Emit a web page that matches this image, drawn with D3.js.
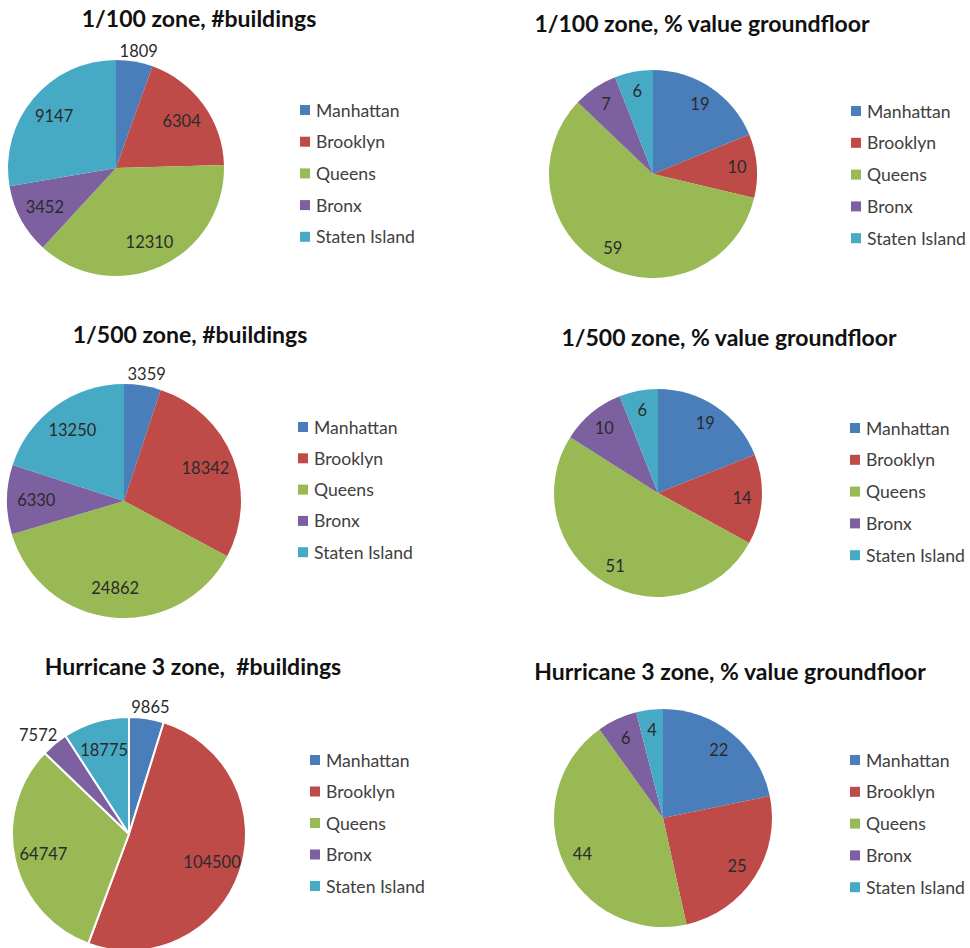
<!DOCTYPE html>
<html>
<head>
<meta charset="utf-8">
<script src="https://cdn.jsdelivr.net/npm/d3@7"></script>
<style>
  html, body { margin: 0; padding: 0; background: #ffffff; }
  svg { display: block; }
  text.title { white-space: pre; }
</style>
</head>
<body>
<script>
// ---- data ----
const boroughs = ["Manhattan", "Brooklyn", "Queens", "Bronx", "Staten Island"];
const chartTitles = [
  "1/100 zone, #buildings",
  "1/100 zone, % value groundfloor",
  "1/500 zone, #buildings",
  "1/500 zone, % value groundfloor",
  "Hurricane 3 zone,  #buildings",
  "Hurricane 3 zone, % value groundfloor"
];
const zone100Buildings = [1809, 6304, 12310, 3452, 9147];
const zone100Value     = [19, 10, 59, 7, 6];
const zone500Buildings = [3359, 18342, 24862, 6330, 13250];
const zone500Value     = [19, 14, 51, 10, 6];
const hurricane3Buildings = [9865, 104500, 64747, 7572, 18775];
const hurricane3Value     = [22, 25, 44, 6, 4];
const seriesList = [zone100Buildings, zone100Value, zone500Buildings, zone500Value, hurricane3Buildings, hurricane3Value];

// ---- layout / style (not data) ----
const colors = ["#4a7ebb", "#be4b48", "#98b954", "#7d60a0", "#46aac5"];
const layout = [
  { cx: 116, cy: 168, r: 108, tx: 199, ty: 27,  lx: 300, ly: 110, step: 31.7, k: 0.75, outside: 0.07, stroke: 0 },
  { cx: 653, cy: 174, r: 104, tx: 702, ty: 32,  lx: 851, ly: 111, step: 31.8, k: 0.81, outside: 0,    stroke: 0 },
  { cx: 124, cy: 501, r: 117, tx: 190, ty: 343, lx: 298, ly: 427, step: 31.3, k: 0.75, outside: 0.07, stroke: 0 },
  { cx: 658, cy: 493, r: 104, tx: 729, ty: 346, lx: 850, ly: 428, step: 31.8, k: 0.81, outside: 0,    stroke: 0 },
  { cx: 129, cy: 834, r: 117, tx: 193, ty: 675, lx: 310, ly: 760, step: 31.5, k: 0.75, outside: 0.07, stroke: 2 },
  { cx: 663, cy: 818, r: 109, tx: 730, ty: 680, lx: 850, ly: 760, step: 31.8, k: 0.81, outside: 0,    stroke: 0 }
];

const W = 970, H = 948;
const svg = d3.select("body").append("svg").attr("width", W).attr("height", H);
const color = d3.scaleOrdinal().domain(boroughs).range(colors);
const pie = d3.pie().sort(null).value(d => d.value);

seriesList.forEach((values, i) => {
  const L = layout[i];
  const data = boroughs.map((b, j) => ({ name: b, value: values[j] }));
  const arcs = pie(data);
  const total = d3.sum(values);
  const g = svg.append("g");

  // title
  g.append("text")
    .attr("class", "title")
    .attr("x", L.tx).attr("y", L.ty)
    .attr("text-anchor", "middle")
    .attr("font-family", "Lato, 'Open Sans', sans-serif")
    .attr("font-weight", "bold")
    .attr("font-size", 23)
    .attr("fill", "#111")
    .text(chartTitles[i]);

  const arc = d3.arc().innerRadius(0).outerRadius(L.r);
  const pg = g.append("g").attr("transform", `translate(${L.cx},${L.cy})`);
  pg.selectAll("path").data(arcs).enter().append("path")
    .attr("d", arc)
    .attr("fill", d => color(d.data.name))
    .attr("stroke", L.stroke ? "#fff" : "none")
    .attr("stroke-width", L.stroke)
    .attr("stroke-linejoin", "round");

  // labels
  pg.selectAll("text.lbl").data(arcs).enter().append("text")
    .attr("class", "lbl")
    .attr("font-family", "Lato, 'Open Sans', sans-serif")
    .attr("font-size", 16.5)
    .attr("fill", "#2b2b2b")
    .attr("text-anchor", "middle")
    .attr("dominant-baseline", "central")
    .each(function(d) {
      const a = (d.startAngle + d.endAngle) / 2;
      const frac = d.value / total;
      let x, y;
      if (frac < L.outside) {
        const rr = L.r * 1.1;
        x = Math.sin(a) * rr + Math.sin(a) * 14;
        y = -Math.cos(a) * rr;
      } else {
        const rr = L.r * L.k;
        x = Math.sin(a) * rr;
        y = -Math.cos(a) * rr;
      }
      d3.select(this).attr("x", x).attr("y", y).text(d.value);
    });

  // legend
  const lg = g.append("g");
  const items = lg.selectAll("g").data(boroughs).enter().append("g")
    .attr("transform", (d, j) => `translate(${L.lx},${L.ly + j * L.step})`);
  items.append("rect")
    .attr("x", 0).attr("y", -5).attr("width", 10).attr("height", 10)
    .attr("fill", d => color(d));
  items.append("text")
    .attr("x", 16).attr("y", 0)
    .attr("dominant-baseline", "central")
    .attr("font-family", "Lato, 'Open Sans', sans-serif")
    .attr("font-size", 17.6)
    .attr("fill", "#404040")
    .text(d => d);
});
</script>
</body>
</html>
